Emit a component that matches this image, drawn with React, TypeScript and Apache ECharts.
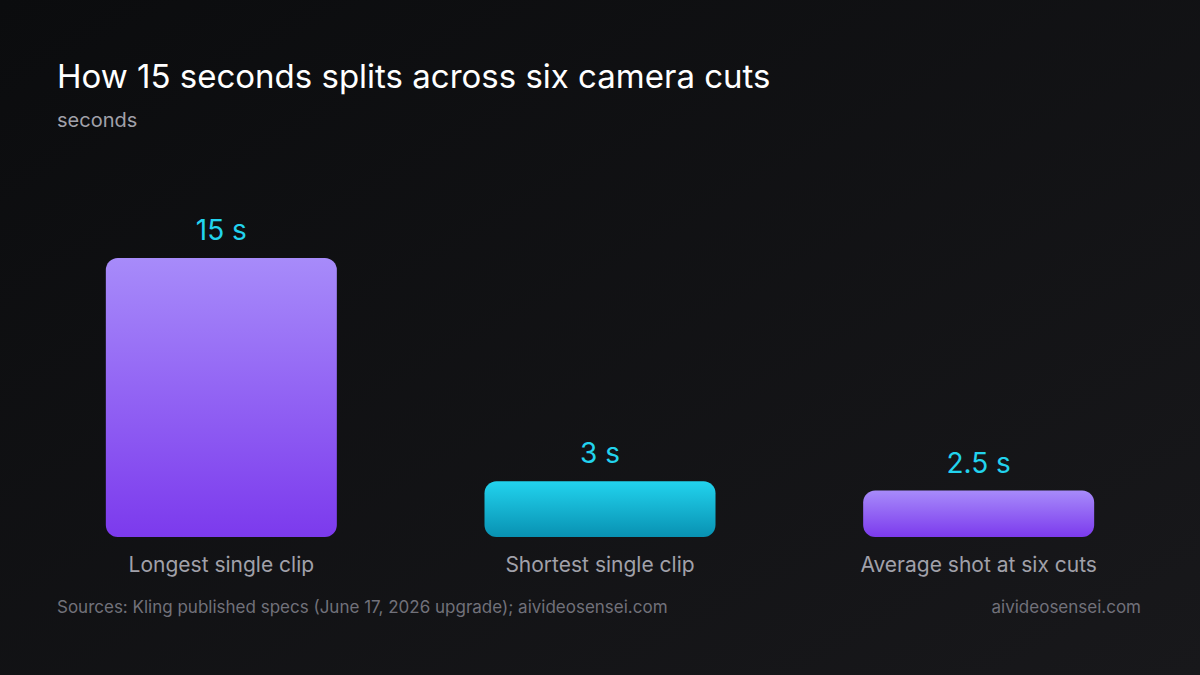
import * as echarts from 'echarts';
import { useEffect, useRef } from 'react';

const categories = ['Longest single clip', 'Shortest single clip', 'Average shot at six cuts'];
const seconds = [15, 3, 2.5];
const barTones = ['purple', 'cyan', 'purple'];

const gradients: Record<string, [string, string]> = {
  purple: ['#a78bfa', '#7c3aed'],
  cyan: ['#22d3ee', '#0891b2'],
};

const FONT = 'Inter, "Noto Sans", sans-serif';

function App() {
  const chartRef = useRef<HTMLDivElement>(null);

  useEffect(() => {
    const myChart = echarts.init(chartRef.current, null, { renderer: 'svg' });

    const option = {
      animation: false,
      backgroundColor: new echarts.graphic.LinearGradient(0, 0, 1, 1, [
        { offset: 0, color: '#0b0c0e' },
        { offset: 1, color: '#18181b' },
      ]),
      textStyle: { fontFamily: FONT },
      grid: {
        left: 32,
        right: 32,
        top: 258,
        bottom: 138,
      },
      xAxis: {
        type: 'category',
        data: categories,
        axisLine: { show: false },
        axisTick: { show: false },
        axisLabel: {
          color: '#a1a1aa',
          fontSize: 21,
          margin: 17,
          fontFamily: FONT,
        },
      },
      yAxis: {
        type: 'value',
        min: 0,
        max: 15,
        show: false,
      },
      series: [
        {
          type: 'bar',
          barWidth: 231,
          data: seconds.map((v, i) => ({
            value: v,
            itemStyle: {
              borderRadius: 12,
              color: new echarts.graphic.LinearGradient(0, 0, 0, 1, [
                { offset: 0, color: gradients[barTones[i]][0] },
                { offset: 1, color: gradients[barTones[i]][1] },
              ]),
            },
          })),
          label: {
            show: true,
            position: 'top',
            distance: 14,
            color: '#22d3ee',
            fontSize: 28,
            fontFamily: FONT,
            formatter: (p: { value: number }) => `${p.value} s`,
          },
        },
      ],
      graphic: [
        {
          type: 'text',
          left: 57,
          top: 59,
          style: {
            text: 'How 15 seconds splits across six camera cuts',
            fill: '#ffffff',
            fontSize: 33,
            fontFamily: FONT,
          },
        },
        {
          type: 'text',
          left: 57,
          top: 110,
          style: {
            text: 'seconds',
            fill: '#a1a1aa',
            fontSize: 20,
            fontFamily: FONT,
          },
        },
        {
          type: 'text',
          left: 57,
          top: 598,
          style: {
            text: 'Sources: Kling published specs (June 17, 2026 upgrade); aivideosensei.com',
            fill: '#71717a',
            fontSize: 17,
            fontFamily: FONT,
          },
        },
        {
          type: 'text',
          right: 59,
          top: 598,
          style: {
            text: 'aivideosensei.com',
            fill: '#71717a',
            fontSize: 17,
            fontFamily: FONT,
          },
        },
      ],
    };

    myChart.setOption(option);

    return () => {
      myChart.dispose();
    };
  }, []);

  return (
    <div
      ref={chartRef}
      style={{ position: 'fixed', left: 0, top: 0, width: '1200px', height: '675px' }}
    ></div>
  );
}

export default App;
